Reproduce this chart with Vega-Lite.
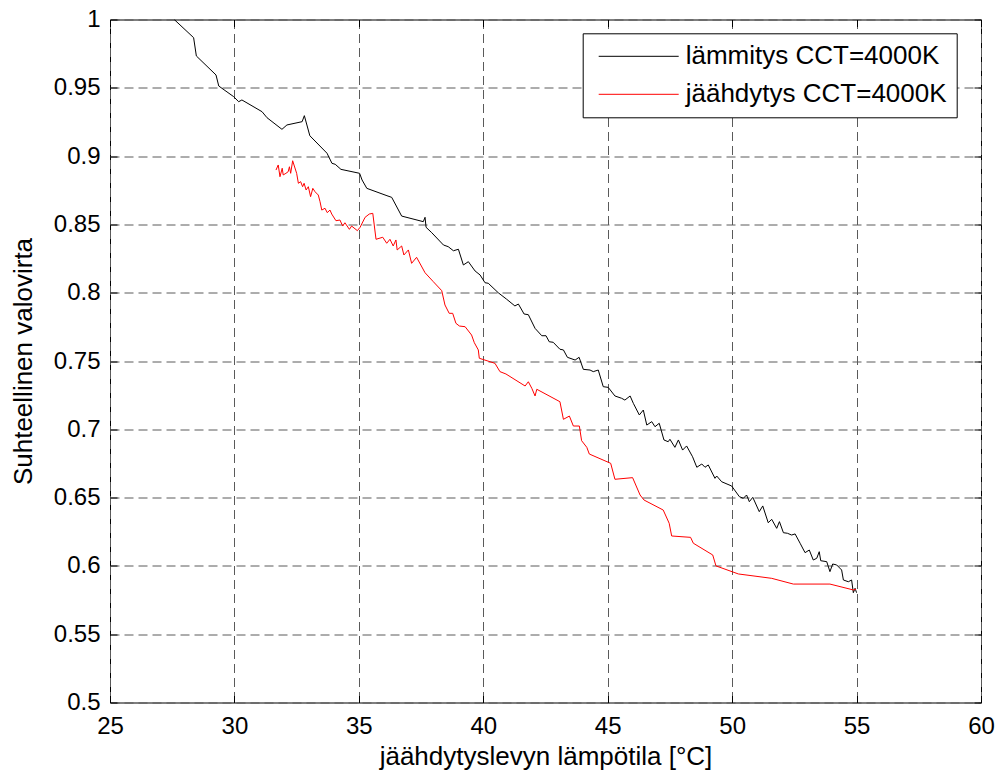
{
  "$schema": "https://vega.github.io/schema/vega-lite/v6.json",
  "width": 871,
  "height": 683,
  "autosize": {"type": "none"},
  "padding": {"left": 110, "top": 19.5, "right": 20, "bottom": 71.5},
  "background": "white",
  "config": {
    "view": {"stroke": "#000000", "strokeWidth": 1},
    "font": "Liberation Sans",
    "axis": {
      "domain": false,
      "labelFont": "Liberation Sans",
      "labelColor": "#000000",
      "labelFontSize": 24,
      "labelFlush": false,
      "labelOverlap": false,
      "tickColor": "#000000",
      "tickSize": -7,
      "tickWidth": 1,
      "titleFont": "Liberation Sans",
      "titleFontSize": 26,
      "titleFontWeight": "normal",
      "titleColor": "#000000",
      "gridColor": "#5a5a5a",
      "gridDash": [9, 5],
      "gridWidth": 1,
      "gridOpacity": 1
    }
  },
  "data": {
    "values": [
      {"series": "lämmitys CCT=4000K", "T": 27.58, "L": 1.0},
      {"series": "lämmitys CCT=4000K", "T": 28.36, "L": 0.9867},
      {"series": "lämmitys CCT=4000K", "T": 28.47, "L": 0.9733},
      {"series": "lämmitys CCT=4000K", "T": 29.26, "L": 0.9594},
      {"series": "lämmitys CCT=4000K", "T": 29.37, "L": 0.9513},
      {"series": "lämmitys CCT=4000K", "T": 29.97, "L": 0.9435},
      {"series": "lämmitys CCT=4000K", "T": 30.17, "L": 0.9398},
      {"series": "lämmitys CCT=4000K", "T": 30.30, "L": 0.9411},
      {"series": "lämmitys CCT=4000K", "T": 31.11, "L": 0.9325},
      {"series": "lämmitys CCT=4000K", "T": 31.31, "L": 0.9281},
      {"series": "lämmitys CCT=4000K", "T": 31.91, "L": 0.9196},
      {"series": "lämmitys CCT=4000K", "T": 32.11, "L": 0.9228},
      {"series": "lämmitys CCT=4000K", "T": 32.72, "L": 0.9252},
      {"series": "lämmitys CCT=4000K", "T": 32.81, "L": 0.9296},
      {"series": "lämmitys CCT=4000K", "T": 33.03, "L": 0.9149},
      {"series": "lämmitys CCT=4000K", "T": 33.72, "L": 0.9021},
      {"series": "lämmitys CCT=4000K", "T": 33.92, "L": 0.8947},
      {"series": "lämmitys CCT=4000K", "T": 34.05, "L": 0.8940},
      {"series": "lämmitys CCT=4000K", "T": 34.28, "L": 0.8903},
      {"series": "lämmitys CCT=4000K", "T": 35.03, "L": 0.8874},
      {"series": "lämmitys CCT=4000K", "T": 35.13, "L": 0.8825},
      {"series": "lämmitys CCT=4000K", "T": 35.32, "L": 0.8764},
      {"series": "lämmitys CCT=4000K", "T": 36.13, "L": 0.8710},
      {"series": "lämmitys CCT=4000K", "T": 36.32, "L": 0.8698},
      {"series": "lämmitys CCT=4000K", "T": 36.72, "L": 0.8561},
      {"series": "lämmitys CCT=4000K", "T": 37.59, "L": 0.8520},
      {"series": "lämmitys CCT=4000K", "T": 37.66, "L": 0.8552},
      {"series": "lämmitys CCT=4000K", "T": 37.70, "L": 0.8479},
      {"series": "lämmitys CCT=4000K", "T": 37.93, "L": 0.8439},
      {"series": "lämmitys CCT=4000K", "T": 38.40, "L": 0.8349},
      {"series": "lämmitys CCT=4000K", "T": 38.59, "L": 0.8337},
      {"series": "lämmitys CCT=4000K", "T": 38.80, "L": 0.8307},
      {"series": "lämmitys CCT=4000K", "T": 39.00, "L": 0.8318},
      {"series": "lämmitys CCT=4000K", "T": 39.20, "L": 0.8203},
      {"series": "lämmitys CCT=4000K", "T": 39.40, "L": 0.8227},
      {"series": "lämmitys CCT=4000K", "T": 39.67, "L": 0.8159},
      {"series": "lämmitys CCT=4000K", "T": 39.87, "L": 0.8130},
      {"series": "lämmitys CCT=4000K", "T": 40.07, "L": 0.8073},
      {"series": "lämmitys CCT=4000K", "T": 40.20, "L": 0.8069},
      {"series": "lämmitys CCT=4000K", "T": 40.60, "L": 0.8000},
      {"series": "lämmitys CCT=4000K", "T": 40.94, "L": 0.7952},
      {"series": "lämmitys CCT=4000K", "T": 41.27, "L": 0.7903},
      {"series": "lämmitys CCT=4000K", "T": 41.41, "L": 0.7917},
      {"series": "lämmitys CCT=4000K", "T": 41.64, "L": 0.7844},
      {"series": "lämmitys CCT=4000K", "T": 41.81, "L": 0.7839},
      {"series": "lämmitys CCT=4000K", "T": 42.08, "L": 0.7739},
      {"series": "lämmitys CCT=4000K", "T": 42.35, "L": 0.7685},
      {"series": "lämmitys CCT=4000K", "T": 42.52, "L": 0.7685},
      {"series": "lämmitys CCT=4000K", "T": 42.65, "L": 0.7641},
      {"series": "lämmitys CCT=4000K", "T": 42.81, "L": 0.7637},
      {"series": "lämmitys CCT=4000K", "T": 43.08, "L": 0.7586},
      {"series": "lämmitys CCT=4000K", "T": 43.22, "L": 0.7581},
      {"series": "lämmitys CCT=4000K", "T": 43.38, "L": 0.7527},
      {"series": "lämmitys CCT=4000K", "T": 43.69, "L": 0.7507},
      {"series": "lämmitys CCT=4000K", "T": 43.85, "L": 0.7527},
      {"series": "lämmitys CCT=4000K", "T": 44.02, "L": 0.7439},
      {"series": "lämmitys CCT=4000K", "T": 44.29, "L": 0.7434},
      {"series": "lämmitys CCT=4000K", "T": 44.42, "L": 0.7422},
      {"series": "lämmitys CCT=4000K", "T": 44.62, "L": 0.7434},
      {"series": "lämmitys CCT=4000K", "T": 44.82, "L": 0.7312},
      {"series": "lämmitys CCT=4000K", "T": 45.02, "L": 0.7307},
      {"series": "lämmitys CCT=4000K", "T": 45.29, "L": 0.7244},
      {"series": "lämmitys CCT=4000K", "T": 45.56, "L": 0.7227},
      {"series": "lämmitys CCT=4000K", "T": 45.69, "L": 0.7214},
      {"series": "lämmitys CCT=4000K", "T": 45.90, "L": 0.7244},
      {"series": "lämmitys CCT=4000K", "T": 46.03, "L": 0.7190},
      {"series": "lämmitys CCT=4000K", "T": 46.27, "L": 0.7105},
      {"series": "lämmitys CCT=4000K", "T": 46.43, "L": 0.7141},
      {"series": "lämmitys CCT=4000K", "T": 46.57, "L": 0.7031},
      {"series": "lämmitys CCT=4000K", "T": 46.77, "L": 0.7056},
      {"series": "lämmitys CCT=4000K", "T": 46.90, "L": 0.7019},
      {"series": "lämmitys CCT=4000K", "T": 47.07, "L": 0.7044},
      {"series": "lämmitys CCT=4000K", "T": 47.26, "L": 0.6922},
      {"series": "lämmitys CCT=4000K", "T": 47.43, "L": 0.6909},
      {"series": "lämmitys CCT=4000K", "T": 47.50, "L": 0.6927},
      {"series": "lämmitys CCT=4000K", "T": 47.70, "L": 0.6868},
      {"series": "lämmitys CCT=4000K", "T": 47.84, "L": 0.6922},
      {"series": "lämmitys CCT=4000K", "T": 48.01, "L": 0.6848},
      {"series": "lämmitys CCT=4000K", "T": 48.17, "L": 0.6878},
      {"series": "lämmitys CCT=4000K", "T": 48.41, "L": 0.6799},
      {"series": "lämmitys CCT=4000K", "T": 48.58, "L": 0.6722},
      {"series": "lämmitys CCT=4000K", "T": 48.78, "L": 0.6746},
      {"series": "lämmitys CCT=4000K", "T": 48.91, "L": 0.6722},
      {"series": "lämmitys CCT=4000K", "T": 49.04, "L": 0.6739},
      {"series": "lämmitys CCT=4000K", "T": 49.31, "L": 0.6641},
      {"series": "lämmitys CCT=4000K", "T": 49.38, "L": 0.6658},
      {"series": "lämmitys CCT=4000K", "T": 49.58, "L": 0.6616},
      {"series": "lämmitys CCT=4000K", "T": 49.98, "L": 0.6585},
      {"series": "lämmitys CCT=4000K", "T": 50.29, "L": 0.6507},
      {"series": "lämmitys CCT=4000K", "T": 50.45, "L": 0.6495},
      {"series": "lämmitys CCT=4000K", "T": 50.58, "L": 0.6519},
      {"series": "lämmitys CCT=4000K", "T": 50.69, "L": 0.6470},
      {"series": "lämmitys CCT=4000K", "T": 50.83, "L": 0.6502},
      {"series": "lämmitys CCT=4000K", "T": 51.09, "L": 0.6397},
      {"series": "lämmitys CCT=4000K", "T": 51.23, "L": 0.6439},
      {"series": "lämmitys CCT=4000K", "T": 51.45, "L": 0.6316},
      {"series": "lämmitys CCT=4000K", "T": 51.59, "L": 0.6341},
      {"series": "lämmitys CCT=4000K", "T": 51.79, "L": 0.6275},
      {"series": "lämmitys CCT=4000K", "T": 51.90, "L": 0.6324},
      {"series": "lämmitys CCT=4000K", "T": 52.06, "L": 0.6243},
      {"series": "lämmitys CCT=4000K", "T": 52.22, "L": 0.6239},
      {"series": "lämmitys CCT=4000K", "T": 52.39, "L": 0.6226},
      {"series": "lämmitys CCT=4000K", "T": 52.53, "L": 0.6234},
      {"series": "lämmitys CCT=4000K", "T": 52.73, "L": 0.6166},
      {"series": "lämmitys CCT=4000K", "T": 52.93, "L": 0.6097},
      {"series": "lämmitys CCT=4000K", "T": 53.10, "L": 0.6116},
      {"series": "lämmitys CCT=4000K", "T": 53.26, "L": 0.6043},
      {"series": "lämmitys CCT=4000K", "T": 53.40, "L": 0.6056},
      {"series": "lämmitys CCT=4000K", "T": 53.50, "L": 0.6104},
      {"series": "lämmitys CCT=4000K", "T": 53.56, "L": 0.6038},
      {"series": "lämmitys CCT=4000K", "T": 53.80, "L": 0.6031},
      {"series": "lämmitys CCT=4000K", "T": 53.93, "L": 0.5958},
      {"series": "lämmitys CCT=4000K", "T": 54.04, "L": 0.6014},
      {"series": "lämmitys CCT=4000K", "T": 54.20, "L": 0.6007},
      {"series": "lämmitys CCT=4000K", "T": 54.40, "L": 0.5970},
      {"series": "lämmitys CCT=4000K", "T": 54.47, "L": 0.5897},
      {"series": "lämmitys CCT=4000K", "T": 54.67, "L": 0.5884},
      {"series": "lämmitys CCT=4000K", "T": 54.80, "L": 0.5897},
      {"series": "lämmitys CCT=4000K", "T": 54.87, "L": 0.5804},
      {"series": "lämmitys CCT=4000K", "T": 54.94, "L": 0.5836},
      {"series": "lämmitys CCT=4000K", "T": 55.00, "L": 0.5804},
      {"series": "jäähdytys CCT=4000K", "T": 31.67, "L": 0.8898},
      {"series": "jäähdytys CCT=4000K", "T": 31.76, "L": 0.8935},
      {"series": "jäähdytys CCT=4000K", "T": 31.83, "L": 0.8849},
      {"series": "jäähdytys CCT=4000K", "T": 31.92, "L": 0.8911},
      {"series": "jäähdytys CCT=4000K", "T": 31.96, "L": 0.8862},
      {"series": "jäähdytys CCT=4000K", "T": 32.07, "L": 0.8874},
      {"series": "jäähdytys CCT=4000K", "T": 32.16, "L": 0.8886},
      {"series": "jäähdytys CCT=4000K", "T": 32.21, "L": 0.8922},
      {"series": "jäähdytys CCT=4000K", "T": 32.26, "L": 0.8874},
      {"series": "jäähdytys CCT=4000K", "T": 32.34, "L": 0.8966},
      {"series": "jäähdytys CCT=4000K", "T": 32.50, "L": 0.8874},
      {"series": "jäähdytys CCT=4000K", "T": 32.57, "L": 0.8801},
      {"series": "jäähdytys CCT=4000K", "T": 32.66, "L": 0.8813},
      {"series": "jäähdytys CCT=4000K", "T": 32.74, "L": 0.8776},
      {"series": "jäähdytys CCT=4000K", "T": 32.80, "L": 0.8801},
      {"series": "jäähdytys CCT=4000K", "T": 32.88, "L": 0.8752},
      {"series": "jäähdytys CCT=4000K", "T": 32.97, "L": 0.8776},
      {"series": "jäähdytys CCT=4000K", "T": 33.06, "L": 0.8703},
      {"series": "jäähdytys CCT=4000K", "T": 33.15, "L": 0.8764},
      {"series": "jäähdytys CCT=4000K", "T": 33.24, "L": 0.8739},
      {"series": "jäähdytys CCT=4000K", "T": 33.37, "L": 0.8715},
      {"series": "jäähdytys CCT=4000K", "T": 33.44, "L": 0.8666},
      {"series": "jäähdytys CCT=4000K", "T": 33.51, "L": 0.8605},
      {"series": "jäähdytys CCT=4000K", "T": 33.64, "L": 0.8618},
      {"series": "jäähdytys CCT=4000K", "T": 33.73, "L": 0.8586},
      {"series": "jäähdytys CCT=4000K", "T": 33.84, "L": 0.8605},
      {"series": "jäähdytys CCT=4000K", "T": 33.91, "L": 0.8576},
      {"series": "jäähdytys CCT=4000K", "T": 34.08, "L": 0.8527},
      {"series": "jäähdytys CCT=4000K", "T": 34.24, "L": 0.8532},
      {"series": "jäähdytys CCT=4000K", "T": 34.35, "L": 0.8488},
      {"series": "jäähdytys CCT=4000K", "T": 34.44, "L": 0.8512},
      {"series": "jäähdytys CCT=4000K", "T": 34.62, "L": 0.8464},
      {"series": "jäähdytys CCT=4000K", "T": 34.71, "L": 0.8488},
      {"series": "jäähdytys CCT=4000K", "T": 34.94, "L": 0.8454},
      {"series": "jäähdytys CCT=4000K", "T": 35.05, "L": 0.8479},
      {"series": "jäähdytys CCT=4000K", "T": 35.25, "L": 0.8552},
      {"series": "jäähdytys CCT=4000K", "T": 35.42, "L": 0.8576},
      {"series": "jäähdytys CCT=4000K", "T": 35.56, "L": 0.8581},
      {"series": "jäähdytys CCT=4000K", "T": 35.69, "L": 0.8391},
      {"series": "jäähdytys CCT=4000K", "T": 35.96, "L": 0.8406},
      {"series": "jäähdytys CCT=4000K", "T": 36.12, "L": 0.8362},
      {"series": "jäähdytys CCT=4000K", "T": 36.25, "L": 0.8391},
      {"series": "jäähdytys CCT=4000K", "T": 36.38, "L": 0.8342},
      {"series": "jäähdytys CCT=4000K", "T": 36.49, "L": 0.8386},
      {"series": "jäähdytys CCT=4000K", "T": 36.54, "L": 0.8313},
      {"series": "jäähdytys CCT=4000K", "T": 36.72, "L": 0.8342},
      {"series": "jäähdytys CCT=4000K", "T": 36.81, "L": 0.8276},
      {"series": "jäähdytys CCT=4000K", "T": 36.99, "L": 0.8313},
      {"series": "jäähdytys CCT=4000K", "T": 37.12, "L": 0.8215},
      {"series": "jäähdytys CCT=4000K", "T": 37.32, "L": 0.8259},
      {"series": "jäähdytys CCT=4000K", "T": 37.66, "L": 0.8146},
      {"series": "jäähdytys CCT=4000K", "T": 37.99, "L": 0.8081},
      {"series": "jäähdytys CCT=4000K", "T": 38.33, "L": 0.8015},
      {"series": "jäähdytys CCT=4000K", "T": 38.46, "L": 0.7910},
      {"series": "jäähdytys CCT=4000K", "T": 38.63, "L": 0.7849},
      {"series": "jäähdytys CCT=4000K", "T": 38.77, "L": 0.7849},
      {"series": "jäähdytys CCT=4000K", "T": 38.90, "L": 0.7776},
      {"series": "jäähdytys CCT=4000K", "T": 39.04, "L": 0.7756},
      {"series": "jäähdytys CCT=4000K", "T": 39.27, "L": 0.7751},
      {"series": "jäähdytys CCT=4000K", "T": 39.53, "L": 0.7690},
      {"series": "jäähdytys CCT=4000K", "T": 39.64, "L": 0.7634},
      {"series": "jäähdytys CCT=4000K", "T": 39.80, "L": 0.7581},
      {"series": "jäähdytys CCT=4000K", "T": 39.84, "L": 0.7520},
      {"series": "jäähdytys CCT=4000K", "T": 40.47, "L": 0.7483},
      {"series": "jäähdytys CCT=4000K", "T": 40.67, "L": 0.7422},
      {"series": "jäähdytys CCT=4000K", "T": 40.91, "L": 0.7405},
      {"series": "jäähdytys CCT=4000K", "T": 41.68, "L": 0.7317},
      {"series": "jäähdytys CCT=4000K", "T": 41.81, "L": 0.7348},
      {"series": "jäähdytys CCT=4000K", "T": 41.95, "L": 0.7300},
      {"series": "jäähdytys CCT=4000K", "T": 42.08, "L": 0.7244},
      {"series": "jäähdytys CCT=4000K", "T": 42.15, "L": 0.7293},
      {"series": "jäähdytys CCT=4000K", "T": 43.08, "L": 0.7202},
      {"series": "jäähdytys CCT=4000K", "T": 43.22, "L": 0.7073},
      {"series": "jäähdytys CCT=4000K", "T": 43.46, "L": 0.7097},
      {"series": "jäähdytys CCT=4000K", "T": 43.62, "L": 0.7024},
      {"series": "jäähdytys CCT=4000K", "T": 43.86, "L": 0.7024},
      {"series": "jäähdytys CCT=4000K", "T": 43.95, "L": 0.6917},
      {"series": "jäähdytys CCT=4000K", "T": 44.16, "L": 0.6868},
      {"series": "jäähdytys CCT=4000K", "T": 44.26, "L": 0.6819},
      {"series": "jäähdytys CCT=4000K", "T": 45.12, "L": 0.6751},
      {"series": "jäähdytys CCT=4000K", "T": 45.29, "L": 0.6634},
      {"series": "jäähdytys CCT=4000K", "T": 46.00, "L": 0.6646},
      {"series": "jäähdytys CCT=4000K", "T": 46.30, "L": 0.6519},
      {"series": "jäähdytys CCT=4000K", "T": 46.46, "L": 0.6482},
      {"series": "jäähdytys CCT=4000K", "T": 47.23, "L": 0.6409},
      {"series": "jäähdytys CCT=4000K", "T": 47.47, "L": 0.6312},
      {"series": "jäähdytys CCT=4000K", "T": 47.57, "L": 0.6219},
      {"series": "jäähdytys CCT=4000K", "T": 48.33, "L": 0.6209},
      {"series": "jäähdytys CCT=4000K", "T": 48.44, "L": 0.6166},
      {"series": "jäähdytys CCT=4000K", "T": 49.22, "L": 0.6080},
      {"series": "jäähdytys CCT=4000K", "T": 49.35, "L": 0.6000},
      {"series": "jäähdytys CCT=4000K", "T": 50.25, "L": 0.5941},
      {"series": "jäähdytys CCT=4000K", "T": 51.59, "L": 0.5909},
      {"series": "jäähdytys CCT=4000K", "T": 52.46, "L": 0.5867},
      {"series": "jäähdytys CCT=4000K", "T": 53.93, "L": 0.5867},
      {"series": "jäähdytys CCT=4000K", "T": 54.87, "L": 0.5824},
      {"series": "jäähdytys CCT=4000K", "T": 54.98, "L": 0.5829}
    ]
  },
  "layer": [
    {
      "transform": [{"filter": "datum.series === 'lämmitys CCT=4000K'"}],
      "mark": {"type": "line", "strokeWidth": 1, "clip": true},
      "encoding": {
        "x": {
          "field": "T", "type": "quantitative",
          "scale": {"domain": [25, 60], "nice": false, "zero": false},
          "axis": {
            "orient": "bottom",
            "values": [25, 30, 35, 40, 45, 50, 55, 60],
            "format": "~g",
            "grid": true,
            "labelPadding": 19,
            "title": "jäähdytyslevyn lämpötila [°C]",
            "titleBaseline": "alphabetic",
            "titleY": 62,
            "titleX": 435.5,
            "titleAnchor": "middle"
          }
        },
        "y": {
          "field": "L", "type": "quantitative",
          "scale": {"domain": [0.5, 1], "nice": false, "zero": false},
          "axis": {
            "orient": "left",
            "values": [0.5, 0.55, 0.6, 0.65, 0.7, 0.75, 0.8, 0.85, 0.9, 0.95, 1],
            "format": "~g",
            "grid": true,
            "labelPadding": 17,
            "title": "Suhteellinen valovirta",
            "titleAngle": -90,
            "titleBaseline": "alphabetic",
            "titleX": -79,
            "titleY": 341.5,
            "titleAnchor": "middle"
          }
        },
        "color": {
          "field": "series", "type": "nominal",
          "scale": {"domain": ["lämmitys CCT=4000K", "jäähdytys CCT=4000K"], "range": ["#000000", "#ff0000"]},
          "legend": {
            "orient": "none",
            "legendX": 472.7,
            "legendY": 13.8,
            "title": null,
            "strokeColor": "#000000",
            "fillColor": "#ffffff",
            "padding": 10,
            "symbolType": "M-4,0H4",
            "symbolSize": 400,
            "symbolStrokeWidth": 1,
            "symbolOffset": 33,
            "labelFont": "Liberation Sans",
            "labelFontSize": 26,
            "labelColor": "#000000",
            "labelOffset": 34,
            "labelLimit": 400,
            "rowPadding": 12
          }
        }
      }
    },
    {
      "transform": [{"filter": "datum.series === 'jäähdytys CCT=4000K'"}],
      "mark": {"type": "line", "strokeWidth": 1, "clip": true},
      "encoding": {
        "x": {
          "field": "T", "type": "quantitative",
          "scale": {"domain": [25, 60], "nice": false, "zero": false},
          "axis": {
            "orient": "top",
            "values": [25, 30, 35, 40, 45, 50, 55, 60],
            "labels": false,
            "grid": false,
            "title": null
          }
        },
        "y": {
          "field": "L", "type": "quantitative",
          "scale": {"domain": [0.5, 1], "nice": false, "zero": false},
          "axis": {
            "orient": "right",
            "values": [0.5, 0.55, 0.6, 0.65, 0.7, 0.75, 0.8, 0.85, 0.9, 0.95, 1],
            "labels": false,
            "grid": false,
            "title": null
          }
        },
        "color": {
          "field": "series", "type": "nominal",
          "scale": {"domain": ["lämmitys CCT=4000K", "jäähdytys CCT=4000K"], "range": ["#000000", "#ff0000"]}
        }
      }
    }
  ],
  "resolve": {"axis": {"x": "independent", "y": "independent"}}
}
